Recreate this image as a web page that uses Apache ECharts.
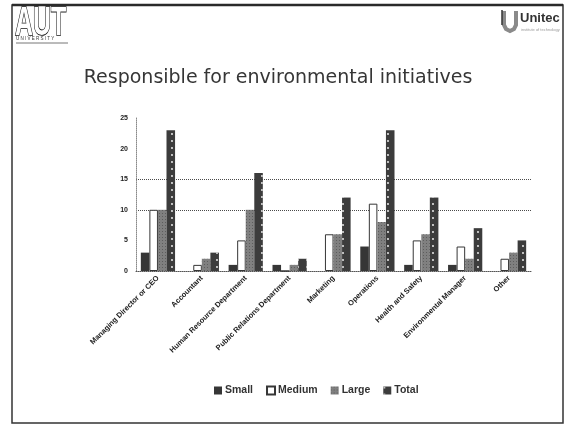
<!DOCTYPE html>
<html>
<head>
<meta charset="utf-8">
<title>Responsible for environmental initiatives</title>
<script src="https://cdn.jsdelivr.net/npm/echarts@6/dist/echarts.min.js"></script>
<style>
  html, body { margin: 0; padding: 0; background: #ffffff; }
  #chart { width: 572px; height: 426px; }
</style>
</head>
<body>
<div id="chart"></div>
<script>
// Who is responsible for environmental initiatives, by organisation size
const categories = [
  'Managing Director or CEO', 'Accountant', 'Human Resource Department',
  'Public Relations Department', 'Marketing', 'Operations',
  'Health and Safety', 'Environmental Manager', 'Other'
];
const small  = [3, 0, 1, 1, 0, 4, 1, 1, 0];
const medium = [10, 1, 5, 0, 6, 11, 5, 4, 2];
const large  = [10, 2, 10, 1, 6, 8, 6, 2, 3];
const total  = [23, 3, 16, 2, 12, 23, 12, 7, 5];
const seriesNames = ['Small', 'Medium', 'Large', 'Total'];
const yMin = 0, yMax = 25, yStep = 5;

const chart = echarts.init(document.getElementById('chart'), null, { renderer: 'canvas' });

const labelFont = { fontFamily: 'Liberation Sans', fontWeight: 'bold', color: '#222' };
const ink = '#363636';

// only the 10 and 15 gridlines are drawn
const gridColors = ['rgba(0,0,0,0)', 'rgba(0,0,0,0)', '#4a4a4a', '#4a4a4a', 'rgba(0,0,0,0)', 'rgba(0,0,0,0)'];

const option = {
  backgroundColor: '#ffffff',
  animation: false,
  grid: { left: 136, right: 41, top: 118, bottom: 155, outerBoundsMode: 'none' },
  legend: {
    data: seriesNames,
    left: 209, top: 380,
    icon: 'rect',
    itemWidth: 8, itemHeight: 8, itemGap: 13,
    textStyle: { fontFamily: 'Liberation Sans', fontWeight: 'bold', fontSize: 10.5, color: '#333', padding: [0, 0, 0, -2] }
  },
  xAxis: {
    type: 'category',
    data: categories,
    axisLine: { show: true, lineStyle: { color: '#555', type: 'dotted', width: 1 } },
    axisTick: { show: false },
    axisLabel: Object.assign({ interval: 0, rotate: 45, fontSize: 7.5, margin: 6 }, labelFont)
  },
  yAxis: {
    type: 'value',
    min: yMin, max: yMax, interval: yStep,
    axisLine: { show: true, lineStyle: { color: '#888', type: 'dotted', width: 1 } },
    axisTick: { show: false },
    axisLabel: Object.assign({ fontSize: 7, margin: 8 }, labelFont),
    splitLine: {
      show: true, showMinLine: true, showMaxLine: true,
      lineStyle: { color: gridColors, type: 'dotted', width: 1 }
    }
  },
  series: [
    {
      name: 'Small', type: 'bar', data: small,
      barGap: '0%', barCategoryGap: '22%',
      itemStyle: { color: ink }
    },
    {
      name: 'Medium', type: 'bar', data: medium,
      itemStyle: { color: '#ffffff', borderColor: ink, borderWidth: 1 }
    },
    {
      name: 'Large', type: 'bar', data: large,
      itemStyle: {
        color: '#808080',
        decal: {
          symbol: 'rect', symbolSize: 1, color: 'rgba(40,40,40,0.4)',
          dashArrayX: [[1, 2]], dashArrayY: [1, 2]
        }
      }
    },
    {
      name: 'Total', type: 'bar', data: total,
      itemStyle: {
        color: '#3c3c3c',
        decal: {
          symbol: 'circle', symbolSize: 0.9, color: '#ffffff',
          dashArrayX: [[2, 7]], dashArrayY: [2, 5]
        }
      }
    }
  ],
  graphic: [
    // slide frame
    { type: 'rect', shape: { x: 12, y: 5, width: 551, height: 418 }, style: { fill: 'none', stroke: '#333', lineWidth: 1.5 } },
    { type: 'line', shape: { x1: 12, y1: 5, x2: 563, y2: 5 }, style: { stroke: '#2a2a2a', lineWidth: 2.5 } },
    // AUT wordmark
    {
      type: 'text', x: 15, y: 3, scaleX: 0.64, scaleY: 1.05,
      style: { text: 'AUT', fontFamily: 'Liberation Sans', fontWeight: 'bold', fontSize: 39, fill: '#ffffff', stroke: '#111', lineWidth: 1.6 }
    },
    {
      type: 'text', x: 16, y: 36,
      style: { text: 'U N I V E R S I T Y', fontFamily: 'Liberation Sans', fontSize: 4.5, fill: '#333' }
    },
    { type: 'line', shape: { x1: 16, y1: 43, x2: 68, y2: 43 }, style: { stroke: '#777', lineWidth: 1 } },
    // Unitec mark
    {
      type: 'polyline',
      shape: { points: [[504, 11], [504, 25], [506, 29], [510, 31], [514, 29], [516, 25], [516, 11]] },
      style: { fill: 'none', stroke: '#8a8a8a', lineWidth: 4 }
    },
    { type: 'line', shape: { x1: 502, y1: 10, x2: 502, y2: 25 }, style: { stroke: '#333', lineWidth: 1.5 } },
    {
      type: 'text', x: 520, y: 12,
      style: { text: 'Unitec', fontFamily: 'Liberation Sans', fontWeight: 'bold', fontSize: 13, fill: '#333' }
    },
    {
      type: 'text', x: 521, y: 28,
      style: { text: 'institute of technology', fontFamily: 'Liberation Sans', fontSize: 4, fill: '#999' }
    },
    // title
    {
      type: 'text', x: 278, y: 78,
      style: {
        text: 'Responsible for environmental initiatives',
        fontFamily: 'DejaVu Sans', fontSize: 19, fill: '#363636',
        align: 'center', verticalAlign: 'middle'
      }
    }
  ]
};

chart.setOption(option);
</script>
</body>
</html>
